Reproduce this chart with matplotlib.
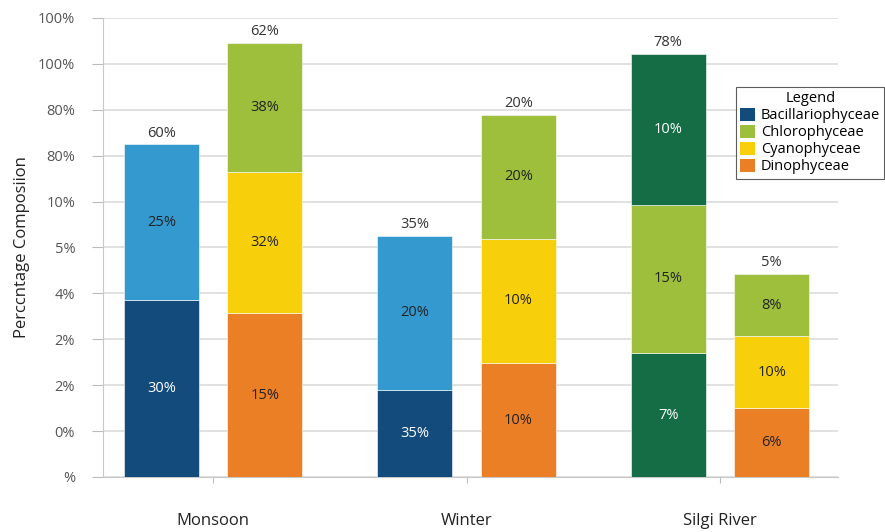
import matplotlib
matplotlib.use("Agg")
import matplotlib.pyplot as plt
from matplotlib.patches import Patch

plt.rcParams['font.family'] = ['Open Sans', 'DejaVu Sans']

# data (heights in axis units)
categories = ["Monsoon", "Winter", "Silgi River"]
ytick_labels = ["%", "0%", "2%", "2%", "4%", "5%", "10%", "80%", "80%", "100%", "100%"]

left_heights = [[3.86, 3.39], [1.90, 3.35], [2.70, 3.23, 3.29]]
left_labels = [["30%", "25%"], ["35%", "20%"], ["7%", "15%", "10%"]]
left_kinds = [["bac", "sky"], ["bac", "sky"], ["dgreen", "chl", "dgreen"]]
left_totals = ["60%", "35%", "78%"]

right_heights = [[3.57, 3.07, 2.82], [2.48, 2.71, 2.70], [1.50, 1.57, 1.35]]
right_labels = [["15%", "32%", "38%"], ["10%", "10%", "20%"], ["6%", "10%", "8%"]]
right_kinds = [["dino", "cya", "chl"], ["dino", "cya", "chl"], ["dino", "cya", "chl"]]
right_totals = ["62%", "20%", "5%"]

legend_names = ["Bacillariophyceae", "Chlorophyceae", "Cyanophyceae", "Dinophyceae"]
legend_kinds = ["bac", "chl", "cya", "dino"]

colors = {"bac": "#134c7c", "sky": "#3499cf", "dgreen": "#146d45",
          "chl": "#9dbf3b", "cya": "#f8cf0b", "dino": "#eb7f26"}
white_text = {"bac", "dgreen"}

fig = plt.figure(figsize=(8.85, 5.32), dpi=100)
ax = fig.add_axes([103/885, 1-477/532, (838-103)/885, (477-18)/532])

width = 0.296
offset = 0.204


def draw_bar(x, heights, labels, kinds, total):
    bottom = 0
    for h, lab, k in zip(heights, labels, kinds):
        ax.bar(x, h, width, bottom=bottom, color=colors[k],
               edgecolor="white", linewidth=0.4, zorder=3)
        tc = "white" if k in white_text else "#222222"
        ax.text(x, bottom + h/2, lab, ha="center", va="center",
                fontsize=10.5, color=tc, zorder=4)
        bottom += h
    ax.text(x, bottom + 0.08, total, ha="center", va="bottom",
            fontsize=10.5, color="#333333", zorder=4)


for i in range(len(categories)):
    draw_bar(i - offset, left_heights[i], left_labels[i], left_kinds[i], left_totals[i])
    draw_bar(i + offset, right_heights[i], right_labels[i], right_kinds[i], right_totals[i])

ax.set_xlim(-0.435, 2.466)
ax.set_ylim(0, 10)
ax.set_yticks(range(11))
ax.set_yticklabels(ytick_labels, fontsize=10.5, color="#555555")
ax.set_xticks(range(len(categories)))
ax.set_xticklabels(categories, fontsize=12, color="#222222")
ax.tick_params(axis="x", length=4, color="#bbbbbb", pad=22)
ax.tick_params(axis="y", length=8, color="#bbbbbb", pad=12)
ax.grid(axis="y", color="#d9d9d9", linewidth=1.1, zorder=0)
for s in ["top", "right"]:
    ax.spines[s].set_visible(False)
for s in ["left", "bottom"]:
    ax.spines[s].set_color("#c8c8c8")
ax.set_ylabel("Perccntage Composiion", fontsize=12, color="#222222", labelpad=6)

handles = [Patch(facecolor=colors[k], edgecolor="none") for k in legend_kinds]
leg = fig.legend(handles, legend_names, title="Legend", loc="upper left",
                 bbox_to_anchor=(736/885, 1-87/532), fontsize=10.5,
                 title_fontsize=10.5, frameon=True, fancybox=False,
                 handlelength=1.0, handleheight=1.0, handletextpad=0.4,
                 borderpad=0.3, labelspacing=0.1, borderaxespad=0)
leg.get_frame().set_edgecolor("#333333")
leg.get_frame().set_linewidth(0.8)

fig.savefig("out.png", dpi=100)
